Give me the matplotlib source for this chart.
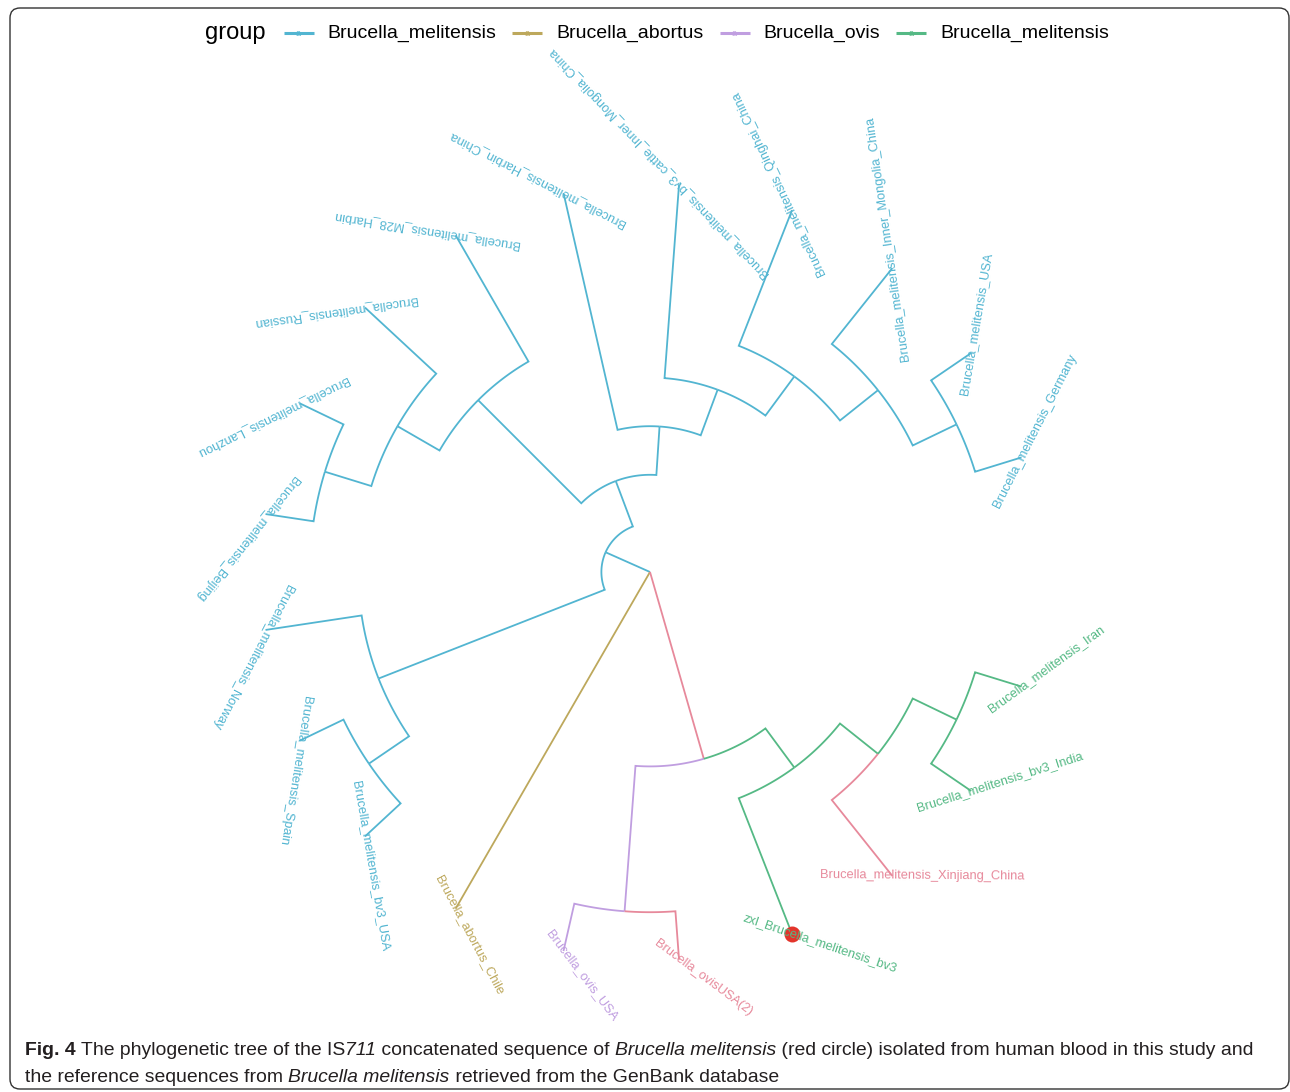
import numpy as np
import matplotlib
matplotlib.use('Agg')
import matplotlib.pyplot as plt
from matplotlib.patches import FancyBboxPatch

# tips in the order they sit round the circle (clockwise, starting just below east)
tip_labels = [
    'Brucella_melitensis_Iran', 'Brucella_melitensis_bv3_India', 'Brucella_melitensis_Xinjiang_China',
    'zxl_Brucella_melitensis_bv3', 'Brucella_ovisUSA(2)', 'Brucella_ovis_USA', 'Brucella_abortus_Chile',
    'Brucella_melitensis_bv3_USA', 'Brucella_melitensis_Spain', 'Brucella_melitensis_Norway',
    'Brucella_melitensis_Beijing', 'Brucella_melitensis_Lanzhou', 'Brucella_melitensis_Russian',
    'Brucella_melitensis_M28_Harbin', 'Brucella_melitensis_Harbin_China',
    'Brucella_melitensis_bv3_cattle_Inner_Mongolia_China', 'Brucella_melitensis_Qinghai_China',
    'Brucella_melitensis_Inner_Mongolia_China', 'Brucella_melitensis_USA', 'Brucella_melitensis_Germany',
]
tip_group = ['mel2', 'mel2', '0', 'mel2', '0', 'ovi', 'abo'] + ['mel'] * 13

# topology (tips are 1-based indices into tip_labels, internal nodes named)
newick = ("((((9,8)I,10)G,((((11,12)H8,13)H7,14)H1,(15,(16,(17,(18,(19,20)H6)H5)H4)H3)H2)H)F,"
          "7,((6,5)E,(4,(3,(2,1)D)C)B)A)root;")
node_group = {'F': 'mel', 'G': 'mel', 'I': 'mel', 'H': 'mel', 'H1': 'mel', 'H7': 'mel', 'H8': 'mel',
              'H2': 'mel', 'H3': 'mel', 'H4': 'mel', 'H5': 'mel', 'H6': 'mel',
              'A': '0', 'E': 'ovi', 'B': 'mel2', 'C': 'mel2', 'D': 'mel2', 'root': '0'}

highlight_tip = 4  # our isolate, marked with the red circle

legend_groups = ['mel', 'abo', 'ovi', 'mel2']
legend_labels = ['Brucella_melitensis', 'Brucella_abortus', 'Brucella_ovis', 'Brucella_melitensis']

colors = {'mel': '#52B5D1', 'abo': '#BDA85C', 'ovi': '#C09EE0', 'mel2': '#55B985', '0': '#E7899B'}

# label tilt relative to the radial direction (deg)
label_tilt = [53, 52, 51, 50, 49, 50, 58, 57, 55, 54, 60, 52, 51, 51, 50, 48, 47, 47, 46, 46]

caption1 = [('Fig. 4', 'bold'), (' The phylogenetic tree of the IS', 'normal'), ('711', 'italic'),
            (' concatenated sequence of ', 'normal'), ('Brucella melitensis', 'italic'),
            (' (red circle) isolated from human blood in this study and', 'normal')]
caption2 = [('the reference sequences from ', 'normal'), ('Brucella melitensis', 'italic'),
            (' retrieved from the GenBank database', 'normal')]


def parse(s):
    pos = 0

    def node():
        nonlocal pos
        kids = []
        if s[pos] == '(':
            pos += 1
            while True:
                kids.append(node())
                if s[pos] == ',':
                    pos += 1
                else:
                    break
            pos += 1
        start = pos
        while pos < len(s) and s[pos] not in ',();':
            pos += 1
        return (s[start:pos], kids)
    return node()


tree = parse(newick)
ypos, depth = {}, {}


def layout(n):
    name, kids = n
    if not kids:
        ypos[name] = float(name)
        depth[name] = 0
        return
    for k in kids:
        layout(k)
    ypos[name] = np.mean([ypos[k[0]] for k in kids])
    depth[name] = min(depth[k[0]] for k in kids) - 1


layout(tree)
shift = -depth['root']
for k in depth:
    depth[k] += shift

ntip = len(tip_labels)


def theta(name):
    return -2 * np.pi * ypos[name] / (ntip + 1)


def group_of(name):
    if name in node_group:
        return node_group[name]
    return tip_group[int(name) - 1]


W, H = 1290, 1092
U = 48.6           # pixels per tree level
cx, cy = 650, 572  # tree centre in pixels
fig = plt.figure(figsize=(W / 100, H / 100), dpi=100)
ax = fig.add_axes([0, 0, 1, 1])
ax.set_xlim(-cx / U, (W - cx) / U)
ax.set_ylim(-(H - cy) / U, cy / U)
ax.axis('off')


def draw(n):
    name, kids = n
    rp, tp = depth[name], theta(name)
    for k in kids:
        cname = k[0]
        tc, rc = theta(cname), depth[cname]
        t = np.linspace(tp, tc, 60)
        xs = list(rp * np.cos(t)) + [rc * np.cos(tc)]
        ys = list(rp * np.sin(t)) + [rc * np.sin(tc)]
        ax.plot(xs, ys, color=colors[group_of(cname)], lw=1.3, solid_joinstyle='miter',
                solid_capstyle='butt', zorder=2)
        draw(k)


draw(tree)

# tip labels
for i, lab in enumerate(tip_labels):
    name = str(i + 1)
    t = theta(name)
    r = depth[name]
    rot = np.degrees(t) + label_tilt[i]
    d = np.radians(rot)
    off = 30 / U
    x = r * np.cos(t) + off * np.cos(d)
    y = r * np.sin(t) + off * np.sin(d)
    ax.text(x, y, lab, rotation=rot, rotation_mode='anchor', ha='center', va='center',
            fontsize=9.3, family=['Liberation Sans', 'DejaVu Sans'],
            color=colors[tip_group[i]], zorder=4)

hn = str(highlight_tip)
ax.plot(depth[hn] * np.cos(theta(hn)), depth[hn] * np.sin(theta(hn)), 'o', ms=11.5,
        color='#E3342B', mec='none', zorder=3)

# overlay in pixel coordinates for legend, caption and frame
lay = fig.add_axes([0, 0, 1, 1], facecolor='none')
lay.set_xlim(0, W)
lay.set_ylim(H, 0)
lay.axis('off')
renderer = fig.canvas.get_renderer()


def width(txt, **kw):
    a = lay.text(0, 0, '|' + txt + '|', **kw)
    b = lay.text(0, 0, '||', **kw)
    w = a.get_window_extent(renderer).width - b.get_window_extent(renderer).width
    a.remove()
    b.remove()
    return w


sans = ['Liberation Sans', 'DejaVu Sans']
x = 205
lay.text(x, 33, 'group', fontsize=17, family=sans, va='center', ha='left')
x += width('group', fontsize=17, family=sans) + 18
for g, lab in zip(legend_groups, legend_labels):
    lay.plot([x, x + 30], [33, 33], color=colors[g], lw=2.2, solid_capstyle='butt')
    lay.text(x + 15, 34, 'a', fontsize=6.5, color=colors[g], ha='center', va='center', family=sans)
    x += 30 + 14
    lay.text(x, 33, lab, fontsize=14, family=sans, va='center', ha='left')
    x += width(lab, fontsize=14, family=sans) + 16

# caption
cap_family = ['Liberation Sans Narrow', 'Liberation Sans', 'DejaVu Sans']
base = 14
w1 = sum(width(s, fontsize=base, family=cap_family, weight='bold' if st == 'bold' else 'normal',
               style='italic' if st == 'italic' else 'normal') for s, st in caption1)
fs = base * 1232 / w1


def caption_line(pieces, y):
    x = 25
    for s, st in pieces:
        kw = dict(fontsize=fs, family=cap_family, weight='bold' if st == 'bold' else 'normal',
                  style='italic' if st == 'italic' else 'normal')
        lay.text(x, y, s, va='baseline', ha='left', color='#231F20', **kw)
        x += width(s, **kw)


caption_line(caption1, 1055)
caption_line(caption2, 1082)

frame = FancyBboxPatch((10, 8), 1279, 1081, boxstyle='round,pad=0,rounding_size=10',
                       fill=False, ec='#333333', lw=1.0)
lay.add_patch(frame)

fig.savefig('out.png', dpi=100)
